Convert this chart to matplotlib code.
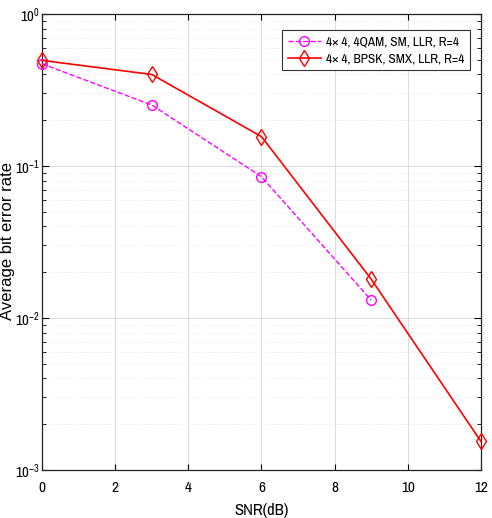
import matplotlib
matplotlib.use("Agg")
import matplotlib.pyplot as plt
from matplotlib import font_manager
from matplotlib.font_manager import FontProperties

snr_qam = [0, 3, 6, 9]
ber_qam = [0.47, 0.252, 0.085, 0.0131]
snr_bpsk = [0, 3, 6, 9, 12]
ber_bpsk = [0.495, 0.40, 0.156, 0.018, 0.00154]
xticks = [0, 2, 4, 6, 8, 10, 12]
labels = ["4× 4, 4QAM, SM, LLR, R=4", "4× 4, BPSK, SMX, LLR, R=4"]

# find a condensed / narrow font file
narrow_file = None
for f in font_manager.fontManager.ttflist:
    if 'Narrow' in f.name and f.style == 'normal' and f.weight in (400, 'normal'):
        narrow_file = f.fname
        break
if narrow_file is None:
    for f in font_manager.fontManager.ttflist:
        if f.name == 'DejaVu Sans' and 'ondensed' in str(f.stretch) and f.style == 'normal' \
                and f.weight in (400, 'normal'):
            narrow_file = f.fname
            break
if narrow_file is None:
    for f in font_manager.fontManager.ttflist:
        if 'Condensed' in f.fname and 'Bold' not in f.fname and 'Oblique' not in f.fname:
            narrow_file = f.fname
            break

def nfp(size):
    if narrow_file:
        return FontProperties(fname=narrow_file, size=size)
    return FontProperties(family='Liberation Sans', size=size)

fig = plt.figure(figsize=(4.92, 5.18), dpi=100)
ax = fig.add_axes([0.0854, 0.0927, 0.8922, 0.8803])

ax.semilogy(snr_qam, ber_qam, linestyle='--', color='#ff00ff', marker='o',
            markersize=7, markerfacecolor='none', markeredgewidth=1.0, linewidth=1.0,
            label=labels[0], clip_on=False, zorder=3)
ax.semilogy(snr_bpsk, ber_bpsk, linestyle='-', color='#ff0000', marker='d',
            markersize=8, markerfacecolor='none', markeredgewidth=1.0, linewidth=1.2,
            label=labels[1], clip_on=False, zorder=3)

ax.set_xlim(0, 12)
ax.set_ylim(1e-3, 1)
ax.set_xticks(xticks)
ax.set_xticklabels([str(x) for x in xticks])
ax.tick_params(axis='both', which='both', direction='in', top=True, right=True, labelsize=10)
ax.tick_params(axis='y', which='major', length=5)
ax.tick_params(axis='y', which='minor', length=3)
ax.tick_params(axis='x', which='major', length=4, pad=8)
ax.tick_params(axis='y', which='major', pad=1.5)
for lab in ax.get_xticklabels():
    lab.set_fontproperties(nfp(11))
ax.grid(True, which='major', color='#dcdcdc', linewidth=0.7, linestyle='-')
ax.grid(True, which='minor', color='#e6e6e6', linewidth=0.6, linestyle=':')
for s in ax.spines.values():
    s.set_linewidth(0.9)
    s.set_color('#222222')

ax.set_xlabel("SNR(dB)", fontproperties=nfp(12), labelpad=6)
fig.text(0.0155, 0.535, "Average bit error rate", rotation=90, ha='center', va='center',
         fontfamily='Liberation Sans', fontsize=12)

leg = ax.legend(loc='upper right', bbox_to_anchor=(0.975, 0.965), prop=nfp(9.5),
                fancybox=False, edgecolor='#333333', framealpha=1, handlelength=2.5,
                borderpad=0.45, labelspacing=0.45, handletextpad=0.4, borderaxespad=0)
leg.get_frame().set_linewidth(0.8)

fig.canvas.draw()
for lab in ax.get_yticklabels():
    lab.set_fontproperties(nfp(10.5))

fig.savefig("out.png", dpi=100)
